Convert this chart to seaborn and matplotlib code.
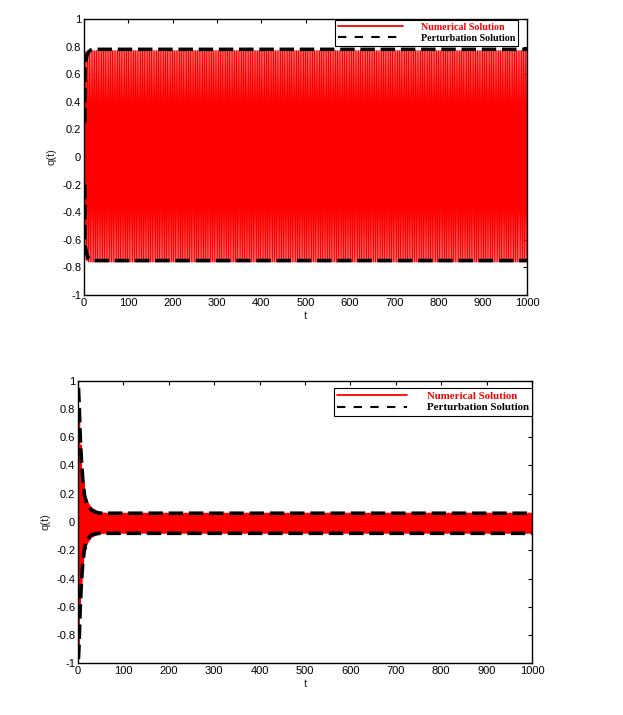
import numpy as np
import pandas as pd
import matplotlib
matplotlib.use("Agg")
import matplotlib.pyplot as plt
import seaborn as sns
from matplotlib.lines import Line2D

# ---- data ----
# top panel: perturbation envelope (dashed)
top_env_t = [2, 2.3, 3, 6, 10, 15, 20, 1000]
top_env_hi = [0.25, 0.6, 0.67, 0.73, 0.76, 0.775, 0.78, 0.78]
top_env_lo = [-0.2, -0.6, -0.65, -0.7, -0.735, -0.745, -0.75, -0.75]
# top panel: numerical solution peak envelope
top_num_t = [0, 2, 10, 1000]
top_num_hi = [1.0, 0.76, 0.77, 0.77]
top_num_lo = [-0.7, -0.74, -0.76, -0.76]
top_half_period = 2.0

# bottom panel: perturbation envelope (dashed)
bot_env_t = [1, 2.2, 5, 7.5, 11, 14.8, 20, 29.5, 38, 48, 60, 1000]
bot_env_hi = [0.95, 0.86, 0.6, 0.44, 0.28, 0.18, 0.125, 0.085, 0.07, 0.063, 0.062, 0.062]
bot_env_lo = [-0.97, -0.88, -0.6, -0.43, -0.27, -0.175, -0.125, -0.092, -0.084, -0.08, -0.08, -0.08]
# bottom panel: numerical solution peak envelope
bot_num_t = [0, 2, 5, 10, 15, 20, 30, 45, 60, 1000]
bot_num_hi = [1.0, 0.9, 0.62, 0.35, 0.22, 0.15, 0.1, 0.07, 0.062, 0.062]
bot_num_lo = [-0.95, -0.9, -0.62, -0.36, -0.23, -0.16, -0.11, -0.085, -0.08, -0.08]
bot_half_period = 1.6

x_ticks = [0, 100, 200, 300, 400, 500, 600, 700, 800, 900, 1000]
y_ticks = [-1, -0.8, -0.6, -0.4, -0.2, 0, 0.2, 0.4, 0.6, 0.8, 1]
y_ticklabels = ["-1", "-0.8", "-0.6", "-0.4", "-0.2", "0", "0.2", "0.4", "0.6", "0.8", "1"]


def oscillation(env_t, env_hi, env_lo, hp):
    t = np.arange(0, 1000 + hp, hp)
    t = t[t <= 1000]
    hi = np.interp(t, env_t, env_hi)
    lo = np.interp(t, env_t, env_lo)
    v = np.where(np.arange(len(t)) % 2 == 0, hi, lo)
    return pd.DataFrame({"t": t, "q": v})


sns.set_style("white")
plt.rcParams["font.family"] = ["Liberation Sans", "DejaVu Sans"]

fig = plt.figure(figsize=(6.23, 7.15), dpi=100)
ax_top = fig.add_axes([84 / 623, 1 - 295 / 715, 443 / 623, 276 / 715])
ax_bot = fig.add_axes([78 / 623, 1 - 663.3 / 715, 454 / 623, 282.6 / 715])

panels = [
    (ax_top, top_num_t, top_num_hi, top_num_lo, top_half_period,
     top_env_t, top_env_hi, top_env_lo, 0.95, 2.6, 7.2, (0.98, 0.997)),
    (ax_bot, bot_num_t, bot_num_hi, bot_num_lo, bot_half_period,
     bot_env_t, bot_env_hi, bot_env_lo, 1.0, 2.6, 7.8, (1.0, 0.975)),
]

for (ax, nt, nhi, nlo, hp, et, ehi, elo, red_lw, dash_lw, leg_fs, anchor) in panels:
    num = oscillation(nt, nhi, nlo, hp)
    sns.lineplot(data=num, x="t", y="q", ax=ax, color="#ff0000", lw=red_lw,
                 sort=False, estimator=None)
    for env in (ehi, elo):
        sns.lineplot(x=et, y=env, ax=ax, color="black", lw=dash_lw,
                     sort=False, estimator=None, linestyle=(0, (4, 1.6)))

    ax.set_xlim(0, 1000)
    ax.set_ylim(-1, 1)
    ax.set_xticks(x_ticks)
    ax.set_yticks(y_ticks)
    ax.set_yticklabels(y_ticklabels)
    ax.tick_params(direction="in", top=True, right=True, labelsize=8,
                   length=3, width=0.8, pad=2, colors="black")
    for s in ax.spines.values():
        s.set_color("black")
        s.set_linewidth(1.0)
    ax.set_xlabel("t", fontsize=8, labelpad=2)
    ax.set_ylabel("q(t)", fontsize=8, labelpad=4)

    handles = [Line2D([], [], color="#ff0000", lw=1.3),
               Line2D([], [], color="black", lw=1.5, linestyle=(0, (4, 4)))]
    leg = ax.legend(handles, ["Numerical Solution", "Perturbation Solution"],
                    loc="upper right", bbox_to_anchor=anchor, borderaxespad=0,
                    prop={"family": "Liberation Serif", "weight": "bold", "size": leg_fs},
                    handlelength=6.5, handletextpad=1.8, labelspacing=0.2,
                    borderpad=0.3, frameon=True, fancybox=False, framealpha=1)
    leg.get_frame().set_edgecolor("black")
    leg.get_frame().set_linewidth(0.8)
    leg.get_texts()[0].set_color("#ff0000")
    leg.get_texts()[1].set_color("black")

fig.savefig("out.png", dpi=100)
